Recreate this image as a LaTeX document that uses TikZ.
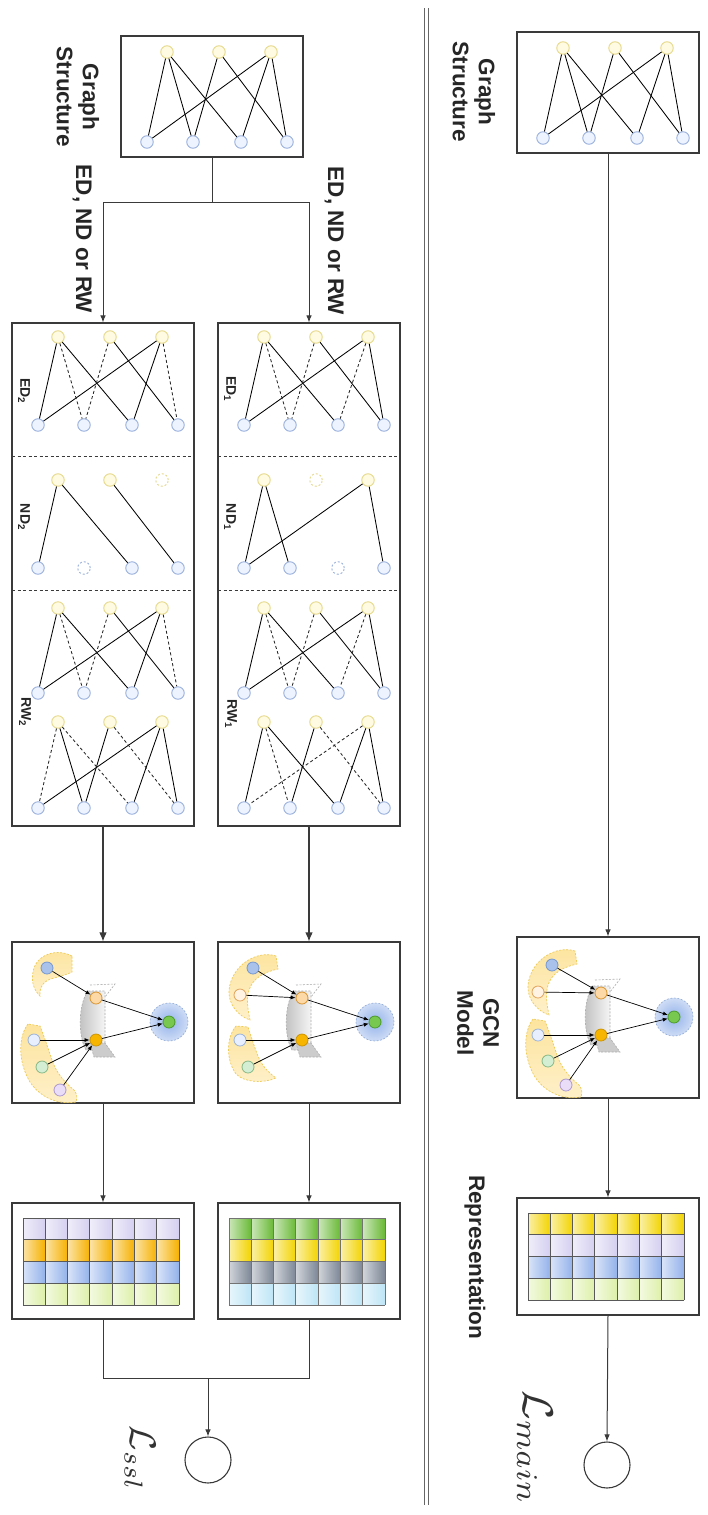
\documentclass[tikz,border=0pt]{standalone}
\usepackage{fontspec}
\setmainfont{Liberation Sans}
\usetikzlibrary{arrows.meta}

\definecolor{ink}{HTML}{3A3A3A}
\definecolor{yfill}{HTML}{FFFBE2}
\definecolor{ydraw}{HTML}{E6D88A}
\definecolor{bfill}{HTML}{EEF4FF}
\definecolor{bdraw}{HTML}{98B0DC}
\definecolor{blobfill}{HTML}{FDE49E}
\definecolor{blobdraw}{HTML}{EFCB5A}
\definecolor{cBlue}{HTML}{A8C2EC}\definecolor{dBlue}{HTML}{7597CF}
\definecolor{cPeach}{HTML}{FFF3E3}\definecolor{dPeach}{HTML}{E3A35A}
\definecolor{cSky}{HTML}{E8F0FF}\definecolor{dSky}{HTML}{9AB2DA}
\definecolor{cMint}{HTML}{D4EED4}\definecolor{dMint}{HTML}{86B886}
\definecolor{cLilac}{HTML}{E9DDF8}\definecolor{dLilac}{HTML}{AD98D0}
\definecolor{cOrange}{HTML}{FCD9A6}\definecolor{dOrange}{HTML}{D9932E}
\definecolor{cAmber}{HTML}{F7B500}\definecolor{dAmber}{HTML}{CF9500}
\definecolor{cLeaf}{HTML}{78C850}\definecolor{dLeaf}{HTML}{4C9A2A}
% feature-matrix row colours
\definecolor{rYellow}{HTML}{F2D400}
\definecolor{rLav}{HTML}{D4CFF0}
\definecolor{rBlue}{HTML}{93B2EA}
\definecolor{rLime}{HTML}{DDF0A8}
\definecolor{rOrange}{HTML}{F6B100}
\definecolor{rGreen}{HTML}{68B935}
\definecolor{rSlate}{HTML}{7C8696}
\definecolor{rCyan}{HTML}{BDE5F6}

\tikzset{
  box/.style={draw=ink, line width=1.1pt, rectangle, inner sep=0pt, minimum width=182pt},
  unode/.style={circle, draw=ydraw, fill=yfill, line width=0.9pt, minimum size=12.5pt, inner sep=0pt},
  inode/.style={circle, draw=bdraw, fill=bfill, line width=0.9pt, minimum size=12.5pt, inner sep=0pt},
  ugone/.style={unode, dash pattern=on 2pt off 2pt, fill=white},
  igone/.style={inode, dash pattern=on 2pt off 2pt, fill=white},
  kept/.style={draw=black, line width=0.85pt},
  cut/.style={draw=black!85, line width=0.85pt, dash pattern=on 3pt off 2.5pt},
  sepline/.style={draw=ink, line width=0.8pt, dash pattern=on 3pt off 2.5pt},
  flow/.style={draw=ink, line width=1pt, -{Latex[length=7pt,width=5.5pt]}},
  flowbig/.style={draw=ink, line width=1.1pt, -{Latex[length=9pt,width=7.5pt]}},
  link/.style={draw=ink, line width=1pt},
  heading/.style={rotate=-90, font=\bfseries\fontsize{22.5}{26}\selectfont, align=center, text=black!85, inner sep=0pt},
  sublabel/.style={rotate=-90, font=\bfseries\fontsize{14}{16}\selectfont, text=black!85, inner sep=0pt},
  gnode/.style={circle, line width=0.8pt, minimum size=12pt, inner sep=0pt},
  gar/.style={draw=black, line width=0.7pt, -{Latex[length=5pt,width=4pt]}},
  blob/.style={top color=blobfill, bottom color=blobfill!55, draw=blobdraw, line width=0.7pt, dash pattern=on 2pt off 1.5pt},
}

% bipartite graph: #1 prefix, #2 y of user row, #3 y of item row
\newcommand{\bipnodes}[3]{%
  \foreach \i/\dx in {1/46,2/98,3/150} \node[unode] (#1y\i) at (\dx,#2) {};
  \foreach \i/\dx in {1/26,2/72,3/120,4/166} \node[inode] (#1b\i) at (\dx,#3) {};}
\newcommand{\keptedges}[2]{\foreach \a/\b in {#2} \draw[kept] (#1y\a) -- (#1b\b);}
\newcommand{\cutedges}[2]{\foreach \a/\b in {#2} \draw[cut] (#1y\a) -- (#1b\b);}

% aggregation core of a model box: #1 prefix
\newcommand{\gcncore}[1]{%
  \shade[left color=gray!50, right color=gray!8, draw=gray!65, line width=0.6pt, dash pattern=on 2pt off 1.5pt]
    (76,49) .. controls (66,62) and (66,95) .. (74,108) -- (93,108) -- (93,49) -- cycle;
  \filldraw[fill=gray!40, draw=gray!65, line width=0.6pt, dash pattern=on 2pt off 1.5pt]
    (78,101) -- (93,101) -- (103,115) -- (82,115) -- cycle;
  \draw[gray!65, line width=0.6pt, dash pattern=on 2pt off 1.5pt] (78,43) -- (103,42) -- (93,55);
  \shade[inner color=rBlue, outer color=rBlue!45, draw=dBlue!80, line width=0.6pt, dash pattern=on 2pt off 1.5pt]
    (157,80) circle[radius=19pt];
  \node[gnode, fill=cLeaf, draw=dLeaf] (#1t) at (157,80) {};
  \node[gnode, fill=cOrange, draw=dOrange] (#1o) at (84,56) {};
  \node[gnode, fill=cAmber, draw=dAmber] (#1y) at (84,98) {};
  \draw[gar] (#1o) -- (#1t);
  \draw[gar] (#1y) -- (#1t);}

% feature matrix: four row colours, grid colour
\newcommand{\repgrid}[5]{%
  \foreach \c [count=\r from 0] in {#1,#2,#3,#4}{
    \foreach \k in {0,...,6}{
      \shade[left color=\c!35, right color=\c] ({11+\k*22.286},{15+\r*21.75}) rectangle ++(22.286,21.75);
    }}
  \foreach \k in {0,...,7} \draw[#5, line width=0.8pt] ({11+\k*22.286},15) -- ({11+\k*22.286},102);
  \foreach \r in {0,...,4} \draw[#5, line width=0.8pt] (11,{15+\r*21.75}) -- (167,{15+\r*21.75});}

\begin{document}
\begin{tikzpicture}[x=1pt,y=-1pt]
\useasboundingbox (0,0) rectangle (708,1515);
\fill[white] (0,0) rectangle (708,1515);

% ---------------- separator between the two pipelines
\draw[gray!80!black, line width=1pt] (424,8) -- (424,1505);
\draw[gray!80!black, line width=1pt] (428,8) -- (428,1505);

% ---------------- boxes
\node[box, minimum height=121pt] (gsL) at (212,96.5) {};
\node[box, minimum height=121pt] (gsR) at (608,92.5) {};
\node[box, minimum height=503pt] (aug2) at (103,574.5) {};
\node[box, minimum height=503pt] (aug1) at (309,574.5) {};
\node[box, minimum height=161pt] (gcn2) at (103,1022.5) {};
\node[box, minimum height=161pt] (gcn1) at (309,1022.5) {};
\node[box, minimum height=161pt] (gcnM) at (608,1017.5) {};
\node[box, minimum height=116pt] (rep2) at (103,1261) {};
\node[box, minimum height=116pt] (rep1) at (309,1261) {};
\node[box, minimum height=117pt] (repM) at (608,1256.5) {};
\node[circle, draw=ink, line width=1.1pt, minimum size=46pt, inner sep=0pt] (lossL) at (208,1460) {};
\node[circle, draw=ink, line width=1.1pt, minimum size=46pt, inner sep=0pt] (lossM) at (607,1465) {};

% ---------------- labels
\node[heading] (tGsL) at (78,97) {Graph\\Structure};
\node[heading] (tGsR) at (474,92) {Graph\\Structure};
\node[heading] (tAugA) at (82,239) {ED, ND or RW};
\node[heading] (tAugB) at (334,241) {ED, ND or RW};
\node[heading] (tGcn) at (478,1023) {GCN\\Model};
\node[heading] (tRep) at (475,1257) {Representation};
\node[rotate=-90, scale=4.3, inner sep=0pt, text=black!80] (tLmain) at (535,1448) {$\mathcal{L}_{main}$};
\node[rotate=-90, scale=3.7, inner sep=0pt, text=black!80] (tLssl) at (140,1458) {$\mathcal{L}_{ssl}$};

% ---------------- input graphs
\begin{scope}[shift={(121,36)}]
  \bipnodes{gl}{16}{106}
  \keptedges{gl}{1/1,1/2,1/3,2/2,2/4,3/1,3/3,3/4}
\end{scope}
\begin{scope}[shift={(517,32)}]
  \bipnodes{gr}{16}{106}
  \keptedges{gr}{1/1,1/2,1/3,2/2,2/4,3/1,3/3,3/4}
\end{scope}

% ---------------- augmented views, branch 1
\begin{scope}[shift={(218,323)}]
  \draw[sepline] (0,133) -- (182,133);
  \draw[sepline] (0,267) -- (182,267);
  \node[sublabel] (lE1) at (12,66) {ED\textsubscript{1}};
  \node[sublabel] (lN1) at (12,194) {ND\textsubscript{1}};
  \node[sublabel] (lR1) at (13,391) {RW\textsubscript{1}};
  % edge dropout
  \bipnodes{ea}{14}{102}
  \keptedges{ea}{1/1,1/3,2/4,3/1,3/4}
  \cutedges{ea}{1/2,2/2,3/3}
  % node dropout
  \node[unode] (nay1) at (46,157) {};
  \node[ugone] (nay2) at (98,157) {};
  \node[unode] (nay3) at (150,157) {};
  \node[inode] (nab1) at (26,245) {};
  \node[inode] (nab2) at (72,245) {};
  \node[igone] (nab3) at (120,245) {};
  \node[inode] (nab4) at (166,245) {};
  \keptedges{na}{1/1,1/2,3/1,3/4}
  % random walk, two layers
  \bipnodes{ra}{285}{370}
  \keptedges{ra}{1/1,1/3,2/4,3/1,3/4}
  \cutedges{ra}{1/2,2/2,3/3}
  \bipnodes{rb}{399}{485}
  \keptedges{rb}{1/1,1/3,2/2,3/3,3/4}
  \cutedges{rb}{1/2,2/4,3/1}
\end{scope}

% ---------------- augmented views, branch 2
\begin{scope}[shift={(12,323)}]
  \draw[sepline] (0,133) -- (182,133);
  \draw[sepline] (0,267) -- (182,267);
  \node[sublabel] (lE2) at (12,68) {ED\textsubscript{2}};
  \node[sublabel] (lN2) at (12,194) {ND\textsubscript{2}};
  \node[sublabel] (lR2) at (13,389) {RW\textsubscript{2}};
  \bipnodes{eb}{14}{102}
  \keptedges{eb}{1/1,1/3,2/4,3/1,3/3}
  \cutedges{eb}{1/2,2/2,3/4}
  \node[unode] (nby1) at (46,157) {};
  \node[unode] (nby2) at (98,157) {};
  \node[ugone] (nby3) at (150,157) {};
  \node[inode] (nbb1) at (26,245) {};
  \node[igone] (nbb2) at (72,245) {};
  \node[inode] (nbb3) at (120,245) {};
  \node[inode] (nbb4) at (166,245) {};
  \keptedges{nb}{1/1,1/3,2/4}
  \bipnodes{rc}{285}{370}
  \keptedges{rc}{1/1,1/3,2/4,3/1,3/3}
  \cutedges{rc}{1/2,2/2,3/4}
  \bipnodes{rd}{399}{485}
  \keptedges{rd}{1/2,2/2,3/1,3/3,3/4}
  \cutedges{rd}{1/1,1/3,2/4}
\end{scope}

% ---------------- model boxes
\begin{scope}[shift={(517,937)}]
  \shade[blob] (58,14) .. controls (40,8) and (14,22) .. (11,48) .. controls (10,62) and (20,74) .. (32,78)
    .. controls (30,68) and (28,58) .. (31,48) .. controls (35,36) and (46,30) .. (60,27) -- cycle;
  \shade[blob] (16,82) .. controls (6,95) and (6,120) .. (18,140) .. controls (28,155) and (45,163) .. (64,160)
    .. controls (66,155) and (64,150) .. (62,148) .. controls (52,140) and (44,130) .. (40,118)
    .. controls (36,106) and (32,94) .. (28,84) -- cycle;
  \gcncore{gM}
  \node[gnode, fill=cBlue, draw=dBlue] (gMa) at (35,28) {};
  \node[gnode, fill=cPeach, draw=dPeach] (gMw) at (21,55) {};
  \node[gnode, fill=cSky, draw=dSky] (gMs) at (21,98) {};
  \node[gnode, fill=cMint, draw=dMint] (gMm) at (31,124) {};
  \node[gnode, fill=cLilac, draw=dLilac] (gMl) at (49,148) {};
  \draw[gar] (gMa) -- (gMo);
  \draw[gar] (gMw) -- (gMo);
  \draw[gar] (gMs) -- (gMy);
  \draw[gar] (gMm) -- (gMy);
  \draw[gar] (gMl) -- (gMy);
\end{scope}

\begin{scope}[shift={(218,942)}]
  \shade[blob] (58,14) .. controls (40,8) and (14,22) .. (11,48) .. controls (10,62) and (20,74) .. (32,78)
    .. controls (30,68) and (28,58) .. (31,48) .. controls (35,36) and (46,30) .. (60,27) -- cycle;
  \shade[blob] (18,84) .. controls (8,96) and (8,118) .. (18,132) .. controls (26,140) and (44,142) .. (58,136)
    .. controls (50,130) and (44,124) .. (40,114) .. controls (36,104) and (33,94) .. (30,85) -- cycle;
  \gcncore{gA}
  \node[gnode, fill=cBlue, draw=dBlue] (gAa) at (35,26) {};
  \node[gnode, fill=cPeach, draw=dPeach] (gAw) at (22,53) {};
  \node[gnode, fill=cSky, draw=dSky] (gAs) at (22,98) {};
  \node[gnode, fill=cMint, draw=dMint] (gAm) at (30,125) {};
  \draw[gar] (gAa) -- (gAo);
  \draw[gar] (gAw) -- (gAo);
  \draw[gar] (gAs) -- (gAy);
  \draw[gar] (gAm) -- (gAy);
\end{scope}

\begin{scope}[shift={(12,942)}]
  \shade[blob] (60,14) .. controls (45,6) and (24,12) .. (21,30) .. controls (19,40) and (22,48) .. (28,54)
    .. controls (27,45) and (32,38) .. (42,36) .. controls (50,34) and (56,32) .. (60,30) -- cycle;
  \shade[blob] (16,82) .. controls (6,95) and (6,120) .. (18,140) .. controls (28,155) and (45,163) .. (64,160)
    .. controls (66,155) and (64,150) .. (62,148) .. controls (52,140) and (44,130) .. (40,118)
    .. controls (36,106) and (32,94) .. (28,84) -- cycle;
  \gcncore{gB}
  \node[gnode, fill=cBlue, draw=dBlue] (gBa) at (35,26) {};
  \node[gnode, fill=cSky, draw=dSky] (gBs) at (22,98) {};
  \node[gnode, fill=cMint, draw=dMint] (gBm) at (30,125) {};
  \node[gnode, fill=cLilac, draw=dLilac] (gBl) at (48,148) {};
  \draw[gar] (gBa) -- (gBo);
  \draw[gar] (gBs) -- (gBy);
  \draw[gar] (gBm) -- (gBy);
  \draw[gar] (gBl) -- (gBy);
\end{scope}

% ---------------- representations
\begin{scope}[shift={(517,1198)}]
  \repgrid{rYellow}{rLav}{rBlue}{rLime}{black!65}
\end{scope}
\begin{scope}[shift={(218,1203)}]
  \repgrid{rGreen}{rYellow}{rSlate}{rCyan}{black!55}
\end{scope}
\begin{scope}[shift={(12,1203)}]
  \repgrid{rLav}{rOrange}{rBlue}{rLime}{black!65}
\end{scope}

% ---------------- connectors
\coordinate (splitL) at (212,202);
\draw[link] (gsL.south) -- (splitL);
\draw[flow] (splitL) -| (aug2.north);
\draw[flow] (splitL) -| (aug1.north);
\draw[flowbig] (aug2.south) -- (gcn2.north);
\draw[flowbig] (aug1.south) -- (gcn1.north);
\draw[flow] (gcn2.south) -- (rep2.north);
\draw[flow] (gcn1.south) -- (rep1.north);
\coordinate (joinL) at (208,1378);
\draw[link] (rep2.south) |- (joinL);
\draw[link] (rep1.south) |- (joinL);
\draw[flow] (joinL) -- (lossL.north);

\draw[flow] (gsR.south) -- (gcnM.north);
\draw[flow] (gcnM.south) -- (repM.north);
\draw[flow] (repM.south) -- (lossM.north);
\end{tikzpicture}
\end{document}
